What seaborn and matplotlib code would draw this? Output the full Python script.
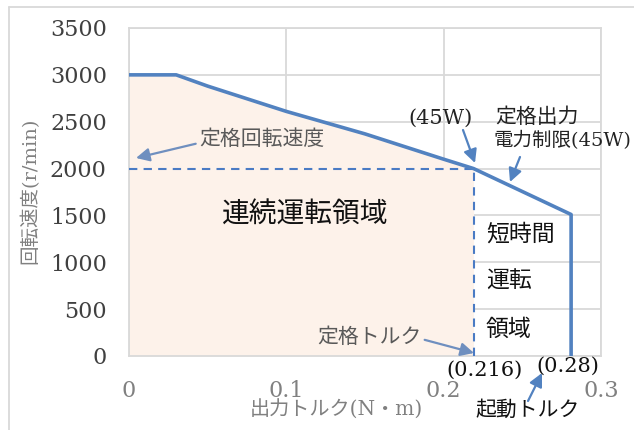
import matplotlib
matplotlib.use("Agg")
import matplotlib.pyplot as plt
from matplotlib.lines import Line2D
import seaborn as sns
import pandas as pd

# speed-torque characteristic
torque = [0, 0.03, 0.05, 0.1, 0.15, 0.2, 0.219, 0.281, 0.281]
speed = [3000, 3000, 2880, 2610, 2370, 2100, 2000, 1510, 0]
rated_torque = 0.219
rated_speed = 2000
x_ticks = [0, 0.1, 0.2, 0.3]
y_ticks = [0, 500, 1000, 1500, 2000, 2500, 3000, 3500]

LINE = "#5282C0"
GRID = "#D9D9D9"
FILL = "#FDF2EA"


def px(x, y):
    # image pixel (top-left origin) -> figure pixels
    return (x, 430 - y)


def main():
    sns.set_theme(style="whitegrid")
    plt.rcParams["font.family"] = ["DejaVu Serif", "Noto Sans CJK JP"]

    df = pd.DataFrame({"torque": torque, "speed": speed})

    fig = plt.figure(figsize=(6.34, 4.3), dpi=100)
    ax = fig.add_axes([129 / 634, 1 - 356 / 430, 472 / 634, 328 / 430])
    ax.set_facecolor("white")

    # continuous region fill
    cont = df[df["torque"] <= rated_torque]
    ax.fill_between(cont["torque"], 0, cont["speed"], color=FILL, zorder=1, lw=0)

    sns.lineplot(data=df, x="torque", y="speed", sort=False, estimator=None,
                 color=LINE, lw=2.6, ax=ax, zorder=4)

    # rated point guides
    ax.plot([0, rated_torque], [rated_speed, rated_speed], ls=(0, (4, 3)),
            color="#4A7BC4", lw=1.5, zorder=3)
    ax.plot([rated_torque, rated_torque], [0, rated_speed], ls=(0, (4, 3)),
            color="#4A7BC4", lw=1.5, zorder=3)

    ax.set_xlim(0, 0.3)
    ax.set_ylim(0, 3500)
    ax.set_xticks(x_ticks)
    ax.set_xticklabels(["0", "0.1", "0.2", "0.3"])
    ax.set_yticks(y_ticks)
    ax.grid(True, color=GRID, lw=1.3)
    ax.set_axisbelow(True)
    for s in ax.spines.values():
        s.set_color(GRID)
        s.set_linewidth(1.3)
    ax.tick_params(axis="x", labelsize=16, labelcolor="#808080", pad=17, length=0)
    ax.tick_params(axis="y", labelsize=16, labelcolor="#404040", pad=16, length=0)
    ax.set_xlabel("")
    ax.set_ylabel("")

    fig.text(336 / 634, 1 - 410 / 430, "出力トルク(N・m)", fontsize=14.5,
             color="#808080", ha="center", va="center")
    fig.text(30 / 634, 1 - 191 / 430, "回転速度(r/min)", fontsize=14,
             color="#808080", ha="center", va="center", rotation=90)

    arrow = dict(arrowstyle="-|>", color=LINE, lw=1.6, mutation_scale=20,
                 shrinkA=0, shrinkB=0)
    gray_arrow = dict(arrowstyle="-|>", color="#6F8FBF", lw=1.6, mutation_scale=20,
                      shrinkA=0, shrinkB=0)
    fp = "figure pixels"

    ax.annotate("定格回転速度", xy=px(136, 158), xycoords=fp, xytext=px(199, 139),
                textcoords=fp, fontsize=15, color="#595959", va="center",
                arrowprops=dict(gray_arrow, relpos=(0, 0.3)))
    ax.annotate("(45W)", xy=px(475, 163), xycoords=fp, xytext=px(440, 118),
                textcoords=fp, fontsize=15, color="#222222", ha="center", va="center")
    ax.annotate("", xy=px(475, 163), xycoords=fp, xytext=px(463, 130),
                textcoords=fp, arrowprops=arrow)
    fig.text(495 / 634, 1 - 117 / 430, "定格出力", fontsize=15, color="#222222",
             va="center")
    fig.text(493 / 634, 1 - 141 / 430, "電力制限(45W)", fontsize=14, color="#222222",
             va="center")
    ax.annotate("", xy=px(510, 182), xycoords=fp, xytext=px(520, 157),
                textcoords=fp, arrowprops=arrow)

    fig.text(305 / 634, 1 - 215 / 430, "連続運転領域", fontsize=20, color="#111111",
             ha="center", va="center")
    for label, y in zip(["短時間", "運転", "領域"], [235, 282, 330]):
        fig.text(486 / 634, 1 - y / 430, label, fontsize=16.5, color="#111111",
                 va="center")

    ax.annotate("定格トルク", xy=px(474, 353), xycoords=fp, xytext=px(317, 337),
                textcoords=fp, fontsize=15, color="#595959", va="center",
                arrowprops=dict(gray_arrow, relpos=(1, 0.4)))
    fig.text(485 / 634, 1 - 370 / 430, "(0.216)", fontsize=15, color="#111111",
             ha="center", va="center")
    fig.text(568 / 634, 1 - 366 / 430, "(0.28)", fontsize=15, color="#111111",
             ha="center", va="center")
    fig.text(528 / 634, 1 - 410 / 430, "起動トルク", fontsize=15, color="#111111",
             ha="center", va="center")
    ax.annotate("", xy=px(542, 373), xycoords=fp, xytext=px(528, 401),
                textcoords=fp, arrowprops=arrow)

    # outer frame (cropped at right/bottom)
    fig.add_artist(Line2D([9 / 634, 9 / 634], [0, 1 - 7 / 430],
                          transform=fig.transFigure, color=GRID, lw=1.3))
    fig.add_artist(Line2D([9 / 634, 1], [1 - 7 / 430, 1 - 7 / 430],
                          transform=fig.transFigure, color=GRID, lw=1.3))

    fig.savefig("out.png", dpi=100)


if __name__ == "__main__":
    main()
